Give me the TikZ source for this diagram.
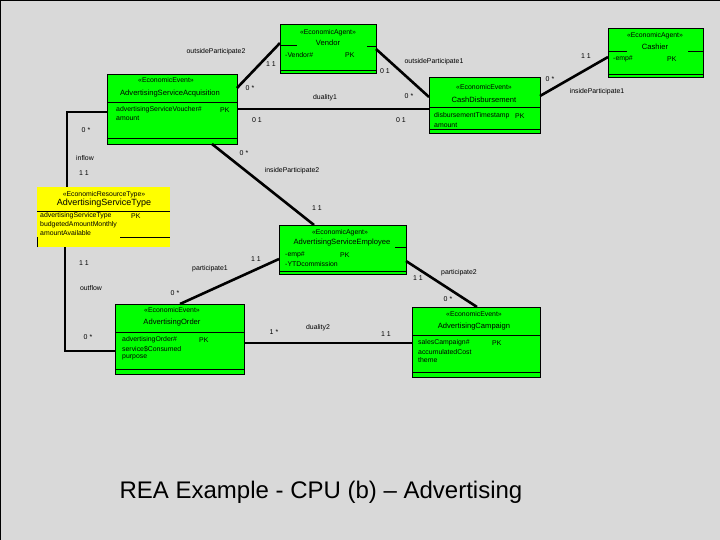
\documentclass[tikz,border=0pt]{standalone}
\usepackage{fontspec}
\setmainfont{Liberation Sans}
\usepackage{tikz}
\usetikzlibrary{positioning}

\definecolor{slidegray}{RGB}{217,217,217}
\definecolor{umlgreen}{RGB}{0,255,0}
\definecolor{umlyellow}{RGB}{255,255,0}

\begin{document}
\begin{tikzpicture}[x=1pt,y=-1pt,
  class box/.style={draw=black,line width=0.9pt,fill=umlgreen,anchor=north west,inner sep=0pt,outer sep=0pt},
  type box/.style={fill=umlyellow,anchor=north west,inner sep=0pt,outer sep=0pt},
  stereo/.style={inner sep=0pt,font=\fontsize{6.9}{7}\selectfont},
  cname/.style={inner sep=0pt,font=\fontsize{7.6}{8}\selectfont},
  attr/.style={inner sep=0pt,anchor=west,font=\fontsize{6.9}{7}\selectfont},
  role/.style={inner sep=0pt,font=\fontsize{6.9}{7}\selectfont},
  mult/.style={inner sep=0pt,font=\fontsize{7}{8}\selectfont},
  sepline/.style={line width=0.9pt},
  assoc/.style={line width=2.6pt}]

  % slide background
  \fill[slidegray] (0,0) rectangle (720,540);
  \useasboundingbox (0,0) rectangle (720,540);
  \draw[line width=1.5pt] (0,540) -- (0,0) -- (720,0);

  % classes
  \node[class box,minimum width=96pt,minimum height=49pt] (vendor) at (280,24) {};
  \node[class box,minimum width=95pt,minimum height=49pt] (cashier) at (608,28) {};
  \node[class box,minimum width=130pt,minimum height=70pt] (acq) at (107,74) {};
  \node[class box,minimum width=111pt,minimum height=56pt] (cash) at (429,77) {};
  \node[type box,minimum width=133pt,minimum height=60pt] (stype) at (37,187) {};
  \node[class box,minimum width=127pt,minimum height=49pt] (emp) at (279,225) {};
  \node[class box,minimum width=129pt,minimum height=70pt] (order) at (115,304) {};
  \node[class box,minimum width=128pt,minimum height=70pt] (camp) at (412,307) {};

  % Vendor
  \node[stereo] at (328,33) {«EconomicAgent»};
  \node[cname] at (328,43) {Vendor};
  \draw[sepline] (vendor.north west) ++(0,21) -- ++(17,0);
  \draw[sepline] (vendor.north east) ++(0,22) -- ++(-9,0);
  \node[attr] at (285,55) {-Vendor\#};
  \node[attr] at (345,55) {PK};
  \draw[sepline] (vendor.south west) ++(0,-3) -- ++(96,0);

  % Cashier
  \node[stereo] at (655,36) {«EconomicAgent»};
  \node[cname] at (655,47) {Cashier};
  \draw[sepline] (cashier.north west) ++(0,23) -- ++(19,0);
  \draw[sepline] (cashier.north east) ++(0,23) -- ++(-15,0);
  \node[attr] at (613,59) {-emp\#};
  \node[attr] at (667,59) {PK};
  \draw[sepline] (cashier.south west) ++(0,-3) -- ++(95,0);

  % AdvertisingServiceAcquisition
  \node[stereo] at (166,80) {«EconomicEvent»};
  \node[cname] at (170,94) {AdvertisingServiceAcquisition};
  \draw[sepline] (acq.north west) ++(0,28) -- ++(130,0);
  \node[attr] at (116,110) {advertisingServiceVoucher\#};
  \node[attr] at (220,110) {PK};
  \node[attr] at (116,118) {amount};
  \draw[sepline] (acq.south west) ++(0,-6) -- ++(130,0);

  % CashDisbursement
  \node[stereo] at (484,87) {«EconomicEvent»};
  \node[cname] at (484,100) {CashDisbursement};
  \draw[sepline] (cash.north west) ++(0,30) -- ++(111,0);
  \node[attr] at (434,116) {disbursementTimestamp};
  \node[attr] at (515,116) {PK};
  \node[attr] at (434,125) {amount};
  \draw[sepline] (cash.south west) ++(0,-4) -- ++(111,0);

  % AdvertisingServiceType
  \node[stereo] at (104,195) {«EconomicResourceType»};
  \node[inner sep=0pt,font=\fontsize{9}{10}\selectfont] at (104,203.5) {AdvertisingServiceType};
  \draw[sepline] (stype.north west) ++(0,24) -- ++(133,0);
  \node[attr] at (40,216) {advertisingServiceType};
  \node[attr] at (131,216) {PK};
  \node[attr] at (40,225) {budgetedAmountMonthly};
  \node[attr] at (40,233) {amountAvailable};
  \draw[sepline] (stype.north west) ++(83,50) -- ++(50,0);
  \draw[sepline] (stype.south west) -- ++(0,-10);

  % AdvertisingServiceEmployee
  \node[stereo] at (340,233) {«EconomicAgent»};
  \node[cname] at (342,243) {AdvertisingServiceEmployee};
  \draw[sepline] (emp.north east) ++(0,22) -- ++(-11,0);
  \node[attr] at (285,255) {-emp\#};
  \node[attr] at (340,255) {PK};
  \node[attr] at (285,264) {-YTDcommission};
  \draw[sepline] (emp.south west) ++(0,-3) -- ++(127,0);

  % AdvertisingOrder
  \node[stereo] at (172,310) {«EconomicEvent»};
  \node[cname] at (172,323) {AdvertisingOrder};
  \draw[sepline] (order.north west) ++(0,28) -- ++(129,0);
  \node[attr] at (122,340) {advertisingOrder\#};
  \node[attr] at (199,340) {PK};
  \node[attr] at (122,349) {service\$Consumed};
  \node[attr] at (122,357) {purpose};
  \draw[sepline] (order.south west) ++(0,-5) -- ++(129,0);

  % AdvertisingCampaign
  \node[stereo] at (474,314) {«EconomicEvent»};
  \node[cname] at (474,327) {AdvertisingCampaign};
  \draw[sepline] (camp.north west) ++(0,28) -- ++(128,0);
  \node[attr] at (418,343) {salesCampaign\#};
  \node[attr] at (492,343) {PK};
  \node[attr] at (418,352) {accumulatedCost};
  \node[attr] at (418,360) {theme};
  \draw[sepline] (camp.south west) ++(0,-5) -- ++(128,0);

  % associations
  \draw[assoc] ([yshift=-19pt]vendor.north west) -- ([yshift=-14pt]acq.north east);
  \draw[assoc] ([yshift=-25pt]vendor.north east) -- ([yshift=-20pt]cash.north west);
  \draw[assoc] ([yshift=-35pt]acq.north east) -- ([yshift=-32pt]cash.north west);
  \draw[assoc] ([yshift=-19pt]cash.north east) -- ([yshift=-29pt]cashier.north west);
  \draw[assoc] ([yshift=-38pt]acq.north west) -| ([xshift=30pt]stype.north west);
  \draw[assoc] ([xshift=28pt]stype.south west) |- ([yshift=-47pt]order.north west);
  \draw[assoc] ([xshift=105pt]acq.south west) -- ([xshift=35pt]emp.north west);
  \draw[assoc] ([yshift=-34pt]emp.north west) -- ([xshift=65pt]order.north west);
  \draw[assoc] ([yshift=-36pt]emp.north east) -- ([xshift=65pt]camp.north west);
  \draw[assoc] ([yshift=-39pt]order.north east) -- ([yshift=-36pt]camp.north west);

  % role names and multiplicities
  \node[role] at (216,52) {outsideParticipate2};
  \node[mult] at (271,64) {1 1};
  \node[mult] at (250,88) {0 *};
  \node[role] at (325,98) {duality1};
  \node[mult] at (257,120) {0 1};
  \node[mult] at (385,71) {0 1};
  \node[role] at (434,62) {outsideParticipate1};
  \node[mult] at (409,96) {0 *};
  \node[mult] at (401,120) {0 1};
  \node[mult] at (550,79) {0 *};
  \node[mult] at (586,56) {1 1};
  \node[role] at (597,92) {insideParticipate1};
  \node[mult] at (86,130) {0 *};
  \node[role] at (85,158) {inflow};
  \node[mult] at (84,173) {1 1};
  \node[mult] at (244,153) {0 *};
  \node[role] at (292,171) {insideParticipate2};
  \node[mult] at (317,208) {1 1};
  \node[mult] at (84,263) {1 1};
  \node[role] at (91,288) {outflow};
  \node[role] at (210,269) {participate1};
  \node[mult] at (256,259) {1 1};
  \node[mult] at (175,293) {0 *};
  \node[role] at (459,273) {participate2};
  \node[mult] at (418,278) {1 1};
  \node[mult] at (448,299) {0 *};
  \node[mult] at (88,337) {0 *};
  \node[mult] at (274,332) {1 *};
  \node[role] at (318,328) {duality2};
  \node[mult] at (386,334) {1 1};

  % title
  \node[inner sep=0pt,font=\fontsize{24}{26}\selectfont] (title) at (321,492) {REA Example - CPU (b) – Advertising};
\end{tikzpicture}
\end{document}
